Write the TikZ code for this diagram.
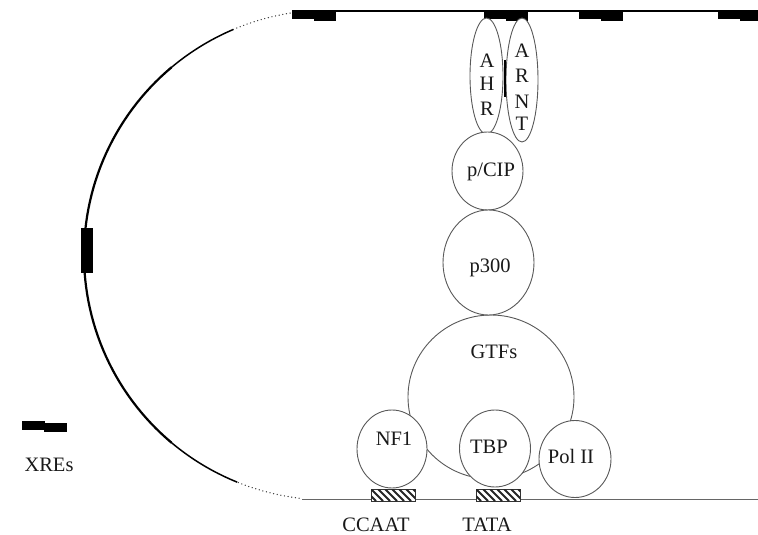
\documentclass[tikz,border=0pt]{standalone}
\usepackage{fontspec}
\setmainfont{Liberation Serif}
\usetikzlibrary{shapes.geometric}
\begin{document}
\begin{tikzpicture}[x=1pt,y=-1pt,
  mol/.style={ellipse, draw=black!65, line width=0.9pt, fill=white, inner sep=0pt},
  lbl/.style={anchor=base, inner sep=0pt, font=\fontsize{20.5}{24}\selectfont, text=black!90},
  dna/.style={line width=1.3pt, black},
  dotline/.style={line width=1.3pt, black!80, dash pattern=on 0.1pt off 3.6pt, line cap=round},
  hatch/.style={line width=1.8pt, black!85}
]
\useasboundingbox (0,0) rectangle (758,535);

% DNA: top strand, bottom strand
\coordinate (tl) at (292,11);
\coordinate (tr) at (758,11);
\coordinate (bl) at (302,499);
\coordinate (br) at (758,499);
\draw[dna] (tl) -- (tr);
\draw[line width=0.9pt, black!60] (bl) -- (br);

% looping DNA arc
\draw[line width=2.2pt] plot[domain=130:230, samples=60] ({329+245*cos(\x)},{255+245*sin(\x)});
\draw[line width=1.5pt] plot[domain=112:131, samples=20] ({329+245*cos(\x)},{255+245*sin(\x)});
\draw[line width=1.5pt] plot[domain=229:247, samples=20] ({329+245*cos(\x)},{255+245*sin(\x)});
\draw[dotline] plot[domain=97:112, samples=20] ({329+245*cos(\x)},{255+245*sin(\x)});
\draw[dotline] plot[domain=247:261, samples=20] ({329+245*cos(\x)},{255+245*sin(\x)});
\fill[black] (81,228) rectangle (93,273);

% XRE blocks on top strand
\begin{scope}
\clip (0,0) rectangle (758,535);
\foreach \p in {292,484,579,718}{
  \fill[black] (\p,10.5) rectangle ++(23,9);
  \fill[black] (\p+22,12.5) rectangle ++(22,9);
}
\end{scope}

% proteins
\node[mol, minimum width=32pt, minimum height=124pt] (arnt) at (522,80) {};
\node[mol, minimum width=33pt, minimum height=116pt] (ahr) at (486.5,76) {};
\coordinate (mA) at (505,60);
\coordinate (mB) at (505,97);
\draw[line width=1.3pt] (mA) -- (mB);
\node[mol, minimum width=71pt, minimum height=78pt] (pcip) at (487.5,171) {};
\node[mol, minimum width=166pt, minimum height=164pt] (gtfs) at (491,397) {};
\node[mol, minimum width=91pt, minimum height=105pt] (p300) at (488.5,262.5) {};
\node[mol, minimum width=70pt, minimum height=78pt] (nf1) at (392,449) {};
\node[mol, minimum width=71pt, minimum height=77pt] (tbp) at (495,448.5) {};
\node[mol, minimum width=72pt, minimum height=77pt] (pol) at (575,459) {};

% hatched promoter boxes
\foreach \bx/\nm in {371/ccaatbox,476/tatabox}{
  \node[draw=black!80, line width=0.8pt, fill=white, minimum width=44pt, minimum height=12pt, inner sep=0pt, anchor=north west] (\nm) at (\bx,489) {};
  \begin{scope}
    \clip (\bx,489) rectangle ++(44,12);
    \foreach \i in {-2,...,7} \draw[hatch] (\bx+\i*7,489) -- ++(12,12);
  \end{scope}
}

% labels
\node[lbl] (tA1) at (487,67) {A};
\node[lbl] (tH) at (487,90) {H};
\node[lbl] (tR1) at (487,115) {R};
\node[lbl] (tA2) at (522,58) {A};
\node[lbl] (tR2) at (522,83) {R};
\node[lbl] (tN) at (522,108) {N};
\node[lbl] (tT) at (522,130) {T};
\node[lbl] (lpcip) at (491,176) {p/CIP};
\node[lbl] (lp300) at (490,272) {p300};
\node[lbl] (lgtfs) at (494,358) {GTFs};
\node[lbl] (lnf1) at (394,445) {NF1};
\node[lbl] (ltbp) at (489,453) {TBP};
\node[lbl] (lpol) at (571,463) {Pol II};
\node[lbl] (lccaat) at (376,531) {CCAAT};
\node[lbl] (ltata) at (487,531) {TATA};

% legend
\fill[black] (22,421) rectangle (45,430);
\fill[black] (44,423) rectangle (67,432);
\node[lbl] (lxre) at (49,471) {XREs};
\end{tikzpicture}
\end{document}
